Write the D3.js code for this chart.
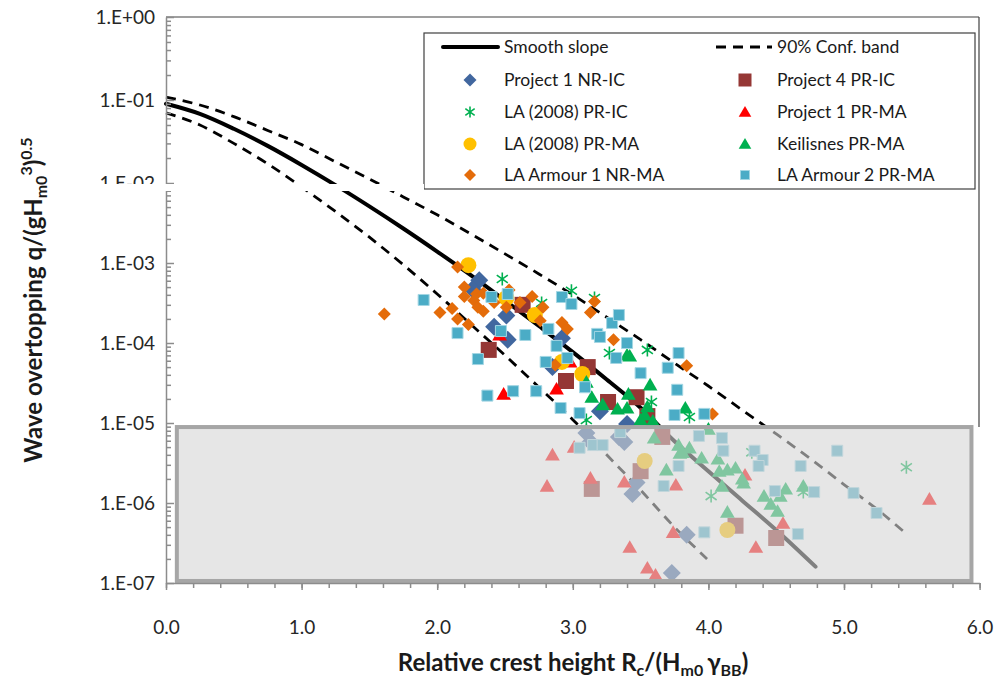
<!DOCTYPE html>
<html>
<head>
<meta charset="utf-8">
<script src="https://cdn.jsdelivr.net/npm/d3@7"></script>
<style>
  body { margin: 0; background: #fff; }
  svg { font-family: Lato, "Open Sans", sans-serif; }
</style>
</head>
<body>
<svg width="1001" height="685"></svg>
<script>
// curves (x = Rc/(Hm0 gamma), q = dimensionless overtopping)
var smoothX = [0, 0.25, 0.5, 0.75, 1, 1.25, 1.5, 1.75, 2, 2.25, 2.5, 2.75, 3, 3.25, 3.5, 3.75, 4, 4.25, 4.5, 4.79];
var smoothQ = [0.09, 0.068, 0.045, 0.028, 0.0165, 0.0094, 0.0051, 0.0027, 0.00139, 7.0e-4, 3.4e-4, 1.63e-4, 7.7e-5, 3.5e-5, 1.55e-5, 5.9e-6, 2.5e-6, 1.07e-6, 4.6e-7, 1.6e-7];

var upperX = [0, 0.25, 0.5, 0.75, 1, 1.25, 1.5, 1.75, 2, 2.25, 2.5, 2.75, 3, 3.25, 3.5, 3.75, 4, 4.25, 4.5, 4.75, 5, 5.25, 5.44];
var upperQ = [0.108, 0.087, 0.063, 0.043, 0.029, 0.018, 0.0112, 0.0067, 0.0040, 0.0023, 0.0013, 7.3e-4, 4.0e-4, 2.1e-4, 1.1e-4, 5.6e-5, 2.9e-5, 1.45e-5, 7.3e-6, 3.6e-6, 1.7e-6, 8.2e-7, 4.4e-7];

var lowerX = [0, 0.25, 0.5, 0.75, 1, 1.25, 1.5, 1.75, 2, 2.25, 2.5, 2.75, 3, 3.25, 3.5, 3.75, 3.99];
var lowerQ = [0.070, 0.050, 0.030, 0.017, 0.0089, 0.0044, 0.0021, 9.5e-4, 4.1e-4, 1.7e-4, 7.0e-5, 2.8e-5, 1.1e-5, 4.0e-6, 1.45e-6, 5.0e-7, 2.0e-7];

// measured points [x, q]
var project1NRIC = [[2.31,6.1e-4],[2.26,4.7e-4],[2.51,2.2e-4],[2.42,1.6e-4],[2.52,1.1e-4],[2.92,1.15e-4],[2.85,5.0e-5],[3.20,1.4e-5],[3.40,9.7e-6],[3.10,7.5e-6],[3.13,5.8e-6],[3.38,5.8e-6],[3.34,6.7e-6],[3.47,1.8e-6],[3.44,1.3e-6],[3.84,4.0e-7],[3.73,1.33e-7]];
var project4PRIC = [[2.63,3.0e-4],[2.38,8.2e-5],[3.11,5.0e-5],[2.95,3.35e-5],[3.26,1.83e-5],[3.47,2.1e-5],[3.55,1.22e-5],[3.66,6.7e-6],[3.50,2.5e-6],[3.14,1.5e-6],[4.20,5.2e-7],[4.50,3.65e-7]];
var la2008PRIC = [[2.48,6.3e-4],[2.99,4.5e-4],[3.16,3.65e-4],[2.77,3.16e-4],[3.27,7.5e-5],[3.55,8.2e-5],[3.58,1.83e-5],[3.86,1.19e-5],[3.10,1.09e-5],[4.02,1.22e-6],[4.32,4.3e-6],[4.70,1.37e-6],[5.46,2.8e-6]];
var project1PRMA = [[2.49,2.3e-5],[2.88,2.66e-5],[2.98,5.8e-5],[2.46,1.26e-4],[2.85,4.0e-6],[3.01,5.0e-6],[2.81,1.63e-6],[3.13,2.05e-6],[3.38,1.83e-6],[3.76,1.68e-6],[3.74,4.3e-7],[3.42,2.8e-7],[3.55,1.54e-7],[3.61,1.26e-7],[4.27,2.24e-6],[4.55,5.6e-7],[4.35,2.8e-7],[5.63,1.12e-6]];
var la2008PRMA = [[2.23,9.4e-4],[2.51,3.65e-4],[2.72,2.24e-4],[2.92,5.8e-5],[3.07,4.1e-5],[3.53,3.35e-6],[4.14,4.6e-7]];
var keilisnesPRMA = [[3.40,7.1e-5],[3.42,6.9e-5],[3.57,3.0e-5],[3.41,2.3e-5],[3.22,1.7e-5],[3.33,1.5e-5],[3.40,1.54e-5],[3.14,2.1e-5],[3.55,1.6e-5],[3.83,1.54e-5],[3.53,1.26e-5],[3.50,1.09e-5],[3.59,1.06e-5],[3.10,3.25e-5],[4.00,8.4e-6],
  [3.60,6.5e-6],[3.69,2.6e-6],[3.78,5.3e-6],[3.86,4.9e-6],[3.79,4.2e-6],[3.95,3.65e-6],[4.07,3.55e-6],[4.08,2.5e-6],[4.14,2.6e-6],[4.20,2.74e-6],[4.25,2.0e-6],[4.26,1.78e-6],[4.10,1.63e-6],[4.41,1.22e-6],[4.46,9.7e-7],[4.51,7.9e-7],[4.53,1.22e-6],[4.57,1.5e-6],[4.70,1.63e-6],[4.14,7.7e-7],[3.81,4.3e-6]];
var laArmour1NRMA = [[1.61,2.3e-4],[2.02,2.4e-4],[2.11,2.7e-4],[2.15,8.9e-4],[2.15,2.0e-4],[2.20,5.0e-4],[2.20,3.8e-4],[2.23,1.7e-4],[2.27,3.4e-4],[2.29,4.1e-4],[2.34,4.2e-4],[2.30,2.8e-4],[2.34,2.5e-4],[2.42,3.2e-4],[2.51,2.8e-4],[2.53,4.6e-4],[2.61,3.2e-4],[2.70,3.8e-4],[2.78,2.8e-4],[2.76,1.9e-4],[2.92,1.8e-4],[2.96,1.5e-4],[2.87,5.3e-5],[3.16,3.3e-4],[3.13,2.4e-4],[3.30,1.1e-4],[3.84,5.2e-5],[4.03,1.3e-5]];
var laArmour2PRMA = [[1.90,3.45e-4],[2.15,1.33e-4],[2.30,6.3e-5],[2.40,3.76e-4],[2.52,4.1e-4],[2.47,1.41e-4],[2.65,1.26e-4],[2.82,1.5e-4],[2.88,9.2e-5],[2.80,5.8e-5],[2.96,6.5e-5],[2.92,3.76e-4],[2.99,3.07e-4],[2.37,2.2e-5],[2.56,2.5e-5],[2.73,2.5e-5],[2.91,1.54e-5],[3.05,1.33e-5],[3.09,2.8e-5],[3.29,1.78e-4],[3.34,2.24e-4],[3.18,1.3e-4],[3.20,1.19e-4],[3.40,1.0e-4],[3.32,6.5e-5],[3.50,4.2e-5],[3.78,7.5e-5],[3.70,4.9e-5],[3.77,2.6e-5],[3.75,1.26e-5],[3.97,1.3e-5],
  [3.05,4.9e-6],[3.15,5.3e-6],[3.22,5.3e-6],[3.35,7.7e-6],[3.67,1.63e-6],[3.78,2.9e-6],[3.93,6.9e-6],[4.10,6.5e-6],[4.11,4.5e-6],[4.34,4.5e-6],[4.40,3.45e-6],[4.37,2.9e-6],[4.68,2.9e-6],[4.95,4.5e-6],[4.49,1.41e-6],[4.78,1.37e-6],[5.07,1.33e-6],[5.24,7.5e-7],[3.97,4.3e-7],[4.66,4.1e-7]];

// shaded region (q below ~1e-5)
var boxX = [0.08, 5.94];
var boxQ = [8.9e-6, 1.06e-7];

var xTicks = [0, 1, 2, 3, 4, 5, 6];
var yTicks = [1, 1e-1, 1e-2, 1e-3, 1e-4, 1e-5, 1e-6, 1e-7];

var svg = d3.select("svg");

var x = d3.scaleLinear().domain([0, 6]).range([166, 979.6]);
// the original has a broken axis: top part 1..1e-2, bottom part 1e-2..1e-7
var y = d3.scaleLog().domain([1, 1e-2, 1e-7]).range([17, 183, 583]);

function sciLabel(v) {
    var e = Math.round(Math.log10(v));
    return "1.E" + (e < 0 ? "-" : "+") + (Math.abs(e) < 10 ? "0" : "") + Math.abs(e);
}

// marker shapes
function shapePath(type, r) {
    if (type == "diamond") return "M0," + (-r) + "L" + r + ",0L0," + r + "L" + (-r) + ",0Z";
    if (type == "square") return "M" + (-r) + "," + (-r) + "h" + 2 * r + "v" + 2 * r + "h" + (-2 * r) + "Z";
    if (type == "triangle") return "M0," + (-r) + "L" + (r * 1.05) + "," + (r * 0.8) + "L" + (-r * 1.05) + "," + (r * 0.8) + "Z";
    if (type == "circle") return "M" + r + ",0A" + r + "," + r + " 0 1,1 " + (-r) + ",0A" + r + "," + r + " 0 1,1 " + r + ",0Z";
    if (type == "star") return "M0," + (-r) + "V" + r + "M" + (-r * 0.85) + "," + (-r * 0.6) + "L" + (r * 0.85) + "," + (r * 0.6) +
        "M" + (-r * 0.85) + "," + (r * 0.6) + "L" + (r * 0.85) + "," + (-r * 0.6);
}

var series = [
    { name: "Project 1 NR-IC", data: project1NRIC, type: "diamond", r: 9, lr: 6.5, color: "#41679f" },
    { name: "Project 4 PR-IC", data: project4PRIC, type: "square", r: 8, lr: 6.5, color: "#953735" },
    { name: "LA (2008) PR-IC", data: la2008PRIC, type: "star", r: 6.5, lr: 5.5, color: "#00b050" },
    { name: "Project 1 PR-MA", data: project1PRMA, type: "triangle", r: 7, lr: 6, color: "#ff0000" },
    { name: "LA (2008) PR-MA", data: la2008PRMA, type: "circle", r: 8, lr: 6.5, color: "#ffc000" },
    { name: "Keilisnes PR-MA", data: keilisnesPRMA, type: "triangle", r: 7, lr: 6, color: "#00b050" },
    { name: "LA Armour 1 NR-MA", data: laArmour1NRMA, type: "diamond", r: 6.5, lr: 6, color: "#e46c0a" },
    { name: "LA Armour 2 PR-MA", data: laArmour2PRMA, type: "square", r: 5.5, lr: 4.5, color: "#4bacc6" }
];

function drawMarker(g, s, r) {
    var p = g.append("path").attr("d", shapePath(s.type, r));
    if (s.type == "star") {
        p.attr("fill", "none").attr("stroke", s.color).attr("stroke-width", 1.6);
    } else {
        p.attr("fill", s.color);
        if (s.name == "LA Armour 2 PR-MA") p.attr("stroke", "#a3d6e3").attr("stroke-width", 1);
    }
    return p;
}

// curves
var line = d3.line()
    .x(function(d) { return x(d[0]); })
    .y(function(d) { return y(d[1]); })
    .curve(d3.curveMonotoneX);

function pairs(xs, qs) { return xs.map(function(v, i) { return [v, qs[i]]; }); }

svg.append("path").attr("d", line(pairs(upperX, upperQ)))
    .attr("fill", "none").attr("stroke", "#000").attr("stroke-width", 2.8).attr("stroke-dasharray", "10,7");
svg.append("path").attr("d", line(pairs(lowerX, lowerQ)))
    .attr("fill", "none").attr("stroke", "#000").attr("stroke-width", 2.8).attr("stroke-dasharray", "10,7");
svg.append("path").attr("d", line(pairs(smoothX, smoothQ)))
    .attr("fill", "none").attr("stroke", "#000").attr("stroke-width", 4).attr("stroke-linecap", "round");

// points
series.forEach(function(s) {
    var g = svg.append("g");
    s.data.forEach(function(d) {
        var m = g.append("g").attr("transform", "translate(" + x(d[0]) + "," + y(d[1]) + ")");
        drawMarker(m, s, s.r);
    });
});

// translucent box over the low-discharge region
svg.append("rect")
    .attr("x", x(boxX[0])).attr("y", y(boxQ[0]))
    .attr("width", x(boxX[1]) - x(boxX[0]))
    .attr("height", y(boxQ[1]) - y(boxQ[0]))
    .attr("fill", "rgb(213,213,213)").attr("fill-opacity", 0.6)
    .attr("stroke", "#a6a6a6").attr("stroke-width", 4);

// plot frame (top / right)
svg.append("line").attr("x1", 166).attr("x2", 979).attr("y1", 17).attr("y2", 17).attr("stroke", "#404040").attr("stroke-width", 1.2);
svg.append("line").attr("x1", 979).attr("x2", 979).attr("y1", 17).attr("y2", 427).attr("stroke", "#404040").attr("stroke-width", 1.2);

// y axis
var minorTicks = [];
for (var n = -7; n < 0; n++) for (var k = 2; k < 10; k++) minorTicks.push(k * Math.pow(10, n));

svg.append("g").attr("transform", "translate(166,0)")
    .call(d3.axisLeft(y).tickValues(yTicks).tickSize(-8).tickSizeOuter(0).tickPadding(11).tickFormat(sciLabel));
svg.append("g").attr("transform", "translate(166,0)")
    .call(d3.axisLeft(y).tickValues(minorTicks).tickSize(-5).tickFormat(""))
    .select(".domain").remove();

// x axis
var xMinor = d3.range(0, 6.01, 0.2);
svg.append("g").attr("transform", "translate(0,583)")
    .call(d3.axisBottom(x).tickValues(xTicks).tickSize(7).tickSizeOuter(0).tickPadding(31).tickFormat(d3.format(".1f")));
svg.append("g").attr("transform", "translate(0,583)")
    .call(d3.axisBottom(x).tickValues(xMinor).tickSize(5).tickFormat(""))
    .select(".domain").remove();

svg.selectAll(".domain, .tick line").attr("stroke", "#8c8c8c").attr("stroke-width", 1.5);
svg.selectAll(".tick text").attr("font-size", 19).attr("fill", "#262626").attr("font-family", "Lato, sans-serif");

// legend
var leg = svg.append("g");
leg.append("rect").attr("x", 424).attr("y", 33).attr("width", 551).attr("height", 156)
    .attr("fill", "#fff").attr("stroke", "#404040").attr("stroke-width", 1.2);

var legRows = [47, 80, 112, 144, 175];
var col1 = { mx: 470, tx: 504 }, col2 = { mx: 745, tx: 777 };

leg.append("line").attr("x1", 443).attr("x2", 498).attr("y1", legRows[0]).attr("y2", legRows[0])
    .attr("stroke", "#000").attr("stroke-width", 4).attr("stroke-linecap", "round");
leg.append("text").attr("x", col1.tx).attr("y", legRows[0]).attr("dy", "0.35em").text("Smooth slope");
leg.append("line").attr("x1", 716).attr("x2", 772).attr("y1", legRows[0]).attr("y2", legRows[0])
    .attr("stroke", "#000").attr("stroke-width", 2.8).attr("stroke-dasharray", "10,7");
leg.append("text").attr("x", col2.tx).attr("y", legRows[0]).attr("dy", "0.35em").text("90% Conf. band");

series.forEach(function(s, i) {
    var col = i % 2 == 0 ? col1 : col2;
    var ry = legRows[1 + Math.floor(i / 2)];
    var m = leg.append("g").attr("transform", "translate(" + col.mx + "," + ry + ")");
    drawMarker(m, s, s.lr);
    leg.append("text").attr("x", col.tx).attr("y", ry).attr("dy", "0.35em").text(s.name);
});
leg.selectAll("text").attr("font-size", 17.5).attr("fill", "#1a1a1a");

// white band that marks the axis break
svg.append("rect").attr("x", 100).attr("y", y(1e-2) + 1).attr("width", 324).attr("height", 7).attr("fill", "#fff");

// axis titles
var xt = svg.append("text").attr("x", 573).attr("y", 671).attr("text-anchor", "middle")
    .attr("font-size", 24).attr("font-weight", "bold").attr("fill", "#1a1a1a");
xt.append("tspan").text("Relative crest height R");
xt.append("tspan").attr("font-size", 16).attr("dy", 5).text("c");
xt.append("tspan").attr("dy", -5).text("/(H");
xt.append("tspan").attr("font-size", 16).attr("dy", 5).text("m0 ");
xt.append("tspan").attr("dy", -5).text("\u03B3");
xt.append("tspan").attr("font-size", 16).attr("dy", 5).text("BB");
xt.append("tspan").attr("dy", -5).text(")");

var yt = svg.append("text").attr("transform", "translate(42,300) rotate(-90)").attr("text-anchor", "middle")
    .attr("font-size", 24).attr("font-weight", "bold").attr("fill", "#1a1a1a");
yt.append("tspan").text("Wave overtopping q/(gH");
yt.append("tspan").attr("font-size", 16).attr("dy", 5).text("m0");
yt.append("tspan").attr("font-size", 16).attr("dy", -15).text("3");
yt.append("tspan").attr("dy", 10).text(")");
yt.append("tspan").attr("font-size", 16).attr("dy", -10).text("0.5");
</script>
</body>
</html>
